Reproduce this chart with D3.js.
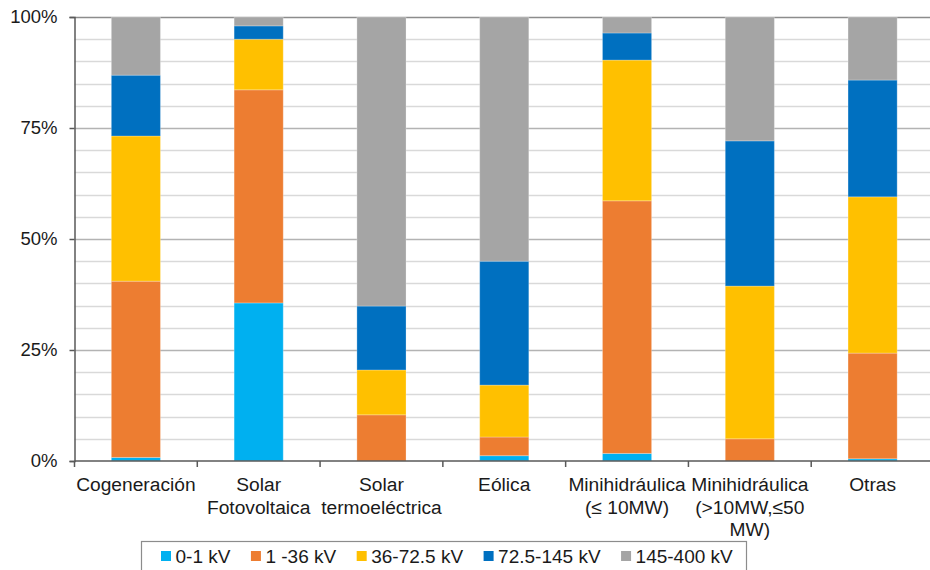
<!DOCTYPE html>
<html>
<head>
<meta charset="utf-8">
<script src="https://cdn.jsdelivr.net/npm/d3@7"></script>
<style>
  html, body { margin: 0; padding: 0; background: #fff; }
  text { font-family: "Liberation Sans", Arial, sans-serif; fill: #1a1a1a; }
</style>
</head>
<body>
<svg id="chart" width="930" height="570"></svg>
<script>
// Technologies (x categories); "\n" marks a line break in the axis label
const categories = [
  "Cogeneración",
  "Solar\nFotovoltaica",
  "Solar\ntermoeléctrica",
  "Eólica",
  "Minihidráulica\n(≤ 10MW)",
  "Minihidráulica\n(>10MW,≤50\nMW)",
  "Otras"
];

// Voltage levels (stack order, bottom to top)
const seriesNames = ["0-1 kV", "1 -36 kV", "36-72.5 kV", "72.5-145 kV", "145-400 kV"];
const seriesColors = ["#00B0F0", "#ED7D31", "#FFC000", "#0070C0", "#A5A5A5"];

// Share of installed capacity per voltage level (%)
const v0_1     = [0.8, 35.6, 0.0, 1.2, 1.7, 0.0, 0.5];
const v1_36    = [39.7, 48.0, 10.4, 4.2, 56.9, 5.0, 23.8];
const v36_72   = [32.7, 11.4, 10.1, 11.7, 31.7, 34.4, 35.2];
const v72_145  = [13.7, 3.0, 14.4, 27.9, 6.1, 32.7, 26.3];
const v145_400 = [13.1, 2.0, 65.1, 55.0, 3.6, 27.9, 14.2];

const yTicks = [0, 0.25, 0.5, 0.75, 1];

const seriesValues = [v0_1, v1_36, v36_72, v72_145, v145_400];
const rows = categories.map((c, i) => {
  const r = { cat: c };
  seriesNames.forEach((s, k) => { r[s] = seriesValues[k][i] / 100; });
  return r;
});

const svg = d3.select("#chart");
const plotLeft = 74.5, plotRight = 934, plotTop = 17, plotBottom = 461;

const x = d3.scaleBand().domain(categories).range([plotLeft, plotRight])
  .paddingInner(0.6).paddingOuter(0.3);
const y = d3.scaleLinear().domain([0, 1]).range([plotBottom, plotTop]);

// Gridlines: minor every 5%, major every 25%
const minor = d3.range(1, 20).map(k => k * 0.05).filter((v, k) => (k + 1) % 5 !== 0);
svg.append("g").selectAll("line").data(minor).join("line")
  .attr("x1", plotLeft).attr("x2", plotRight)
  .attr("y1", d => Math.round(y(d)) + 0.5).attr("y2", d => Math.round(y(d)) + 0.5)
  .attr("stroke", "#d9d9d9").attr("stroke-width", 1.5);
svg.append("g").selectAll("line").data([0.25, 0.5, 0.75]).join("line")
  .attr("x1", plotLeft).attr("x2", plotRight)
  .attr("y1", d => Math.round(y(d)) + 0.5).attr("y2", d => Math.round(y(d)) + 0.5)
  .attr("stroke", "#b3b3b3").attr("stroke-width", 1.5);
svg.append("line")
  .attr("x1", plotLeft).attr("x2", plotRight)
  .attr("y1", Math.round(y(1)) + 0.5).attr("y2", Math.round(y(1)) + 0.5)
  .attr("stroke", "#8c8c8c").attr("stroke-width", 1.5);

// Stacked bars
const stacked = d3.stack().keys(seriesNames)(rows);
svg.append("g").selectAll("g").data(stacked).join("g")
  .attr("fill", (d, i) => seriesColors[i])
  .selectAll("rect").data(d => d).join("rect")
  .attr("x", d => x(d.data.cat))
  .attr("width", x.bandwidth())
  .attr("y", d => y(d[1]))
  .attr("height", d => Math.max(0, y(d[0]) - y(d[1])))
  .attr("stroke", "rgba(255,255,255,0.25)")
  .attr("stroke-width", 1);

// Y axis
const yAxis = d3.axisLeft(y).tickValues(yTicks).tickFormat(d3.format(".0%")).tickSize(5).tickPadding(12);
const gy = svg.append("g").attr("transform", `translate(${plotLeft},0)`).call(yAxis);
gy.select(".domain").attr("stroke", "#595959").attr("stroke-width", 1.5);
gy.selectAll(".tick line").attr("stroke", "#595959").attr("stroke-width", 1.5);
gy.selectAll(".tick text").attr("font-size", 18.5).attr("fill", "#1a1a1a")
  .attr("font-family", "Liberation Sans, Arial, sans-serif");

// X axis with tick marks at category boundaries
const step = x.step();
svg.append("line").attr("x1", plotLeft).attr("x2", plotRight).attr("y1", plotBottom).attr("y2", plotBottom)
  .attr("stroke", "#595959").attr("stroke-width", 1.5);
svg.append("g").selectAll("line").data(d3.range(0, categories.length + 1)).join("line")
  .attr("x1", i => plotLeft + i * step).attr("x2", i => plotLeft + i * step)
  .attr("y1", plotBottom).attr("y2", plotBottom + 6)
  .attr("stroke", "#595959").attr("stroke-width", 1.5);

const labels = svg.append("g").selectAll("text").data(categories).join("text")
  .attr("x", d => x(d) + x.bandwidth() / 2)
  .attr("y", 491)
  .attr("text-anchor", "middle")
  .attr("font-size", 19.2);
labels.selectAll("tspan").data(d => d.split("\n").map((t, i) => ({ t, i }))).join("tspan")
  .attr("x", function () { return d3.select(this.parentNode).attr("x"); })
  .attr("dy", d => d.i === 0 ? 0 : 22.5)
  .text(d => d.t);

// Legend
const lg = svg.append("g");
lg.append("rect").attr("x", 141.5).attr("y", 541.5).attr("width", 605).attr("height", 40)
  .attr("fill", "#fff").attr("stroke", "#8c8c8c").attr("stroke-width", 1.2);
let lx = 161;
seriesNames.forEach((s, i) => {
  lg.append("rect").attr("x", lx).attr("y", 551).attr("width", 10).attr("height", 10)
    .attr("fill", seriesColors[i]);
  const t = lg.append("text").attr("x", lx + 14.5).attr("y", 563).attr("font-size", 19).text(s);
  lx += 14.5 + t.node().getComputedTextLength() + 20.5;
});
</script>
</body>
</html>
